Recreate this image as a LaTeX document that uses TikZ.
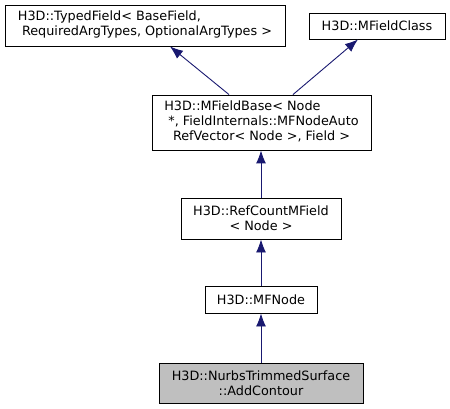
\documentclass[tikz,border=0pt]{standalone}
\usepackage{fontspec}
\setmainfont{DejaVu Sans}
\usetikzlibrary{arrows.meta}
\definecolor{edgeblue}{HTML}{191970}
\definecolor{currentgray}{HTML}{BFBFBF}
\tikzset{%
  >={Latex[length=13pt,width=10pt]},
  class box/.style={draw=black,line width=0.9pt,fill=white,inner sep=0pt,
    font=\fontsize{12.8}{15}\selectfont},
  current class/.style={class box,fill=currentgray},
  inherit edge/.style={->,draw=edgeblue,line width=0.9pt}
}
\begin{document}
\begin{tikzpicture}[x=1pt,y=-1pt]
\useasboundingbox (0,0) rectangle (450,409);

% base classes
\node[class box,minimum width=280pt,minimum height=41pt] (typed) at (145,25.5)
  {\begin{tabular}{@{}l@{}}H3D::TypedField< BaseField,\\\ RequiredArgTypes, OptionalArgTypes >\end{tabular}};
\node[class box,minimum width=136pt,minimum height=26pt] (mfclass) at (377,26) {H3D::MFieldClass};

\node[class box,minimum width=219pt,minimum height=55pt] (base) at (261.5,122.5)
  {\begin{tabular}{@{}l@{}}H3D::MFieldBase< Node\\\ *, FieldInternals::MFNodeAuto\\\multicolumn{1}{@{}c@{}}{RefVector< Node >, Field >}\end{tabular}};
\node[class box,align=center,minimum width=160pt,minimum height=41pt] (refcount) at (261,218.5)
  {H3D::RefCountMField\\< Node >};
\node[class box,minimum width=112pt,minimum height=27pt] (mfnode) at (261,299.5) {H3D::MFNode};

% the class itself
\node[current class,align=center,minimum width=204pt,minimum height=40pt] (contour) at (261,383)
  {H3D::NurbsTrimmedSurface\\::AddContour};

\draw[inherit edge] ([xshift=-32.5pt]base.north) -- ([xshift=25pt]typed.south);
\draw[inherit edge] ([xshift=31.5pt]base.north) -- ([xshift=-19pt]mfclass.south);
\draw[inherit edge] (refcount.north) -- (refcount.north |- base.south);
\draw[inherit edge] (mfnode) -- (refcount);
\draw[inherit edge] (contour) -- (mfnode);
\end{tikzpicture}
\end{document}
